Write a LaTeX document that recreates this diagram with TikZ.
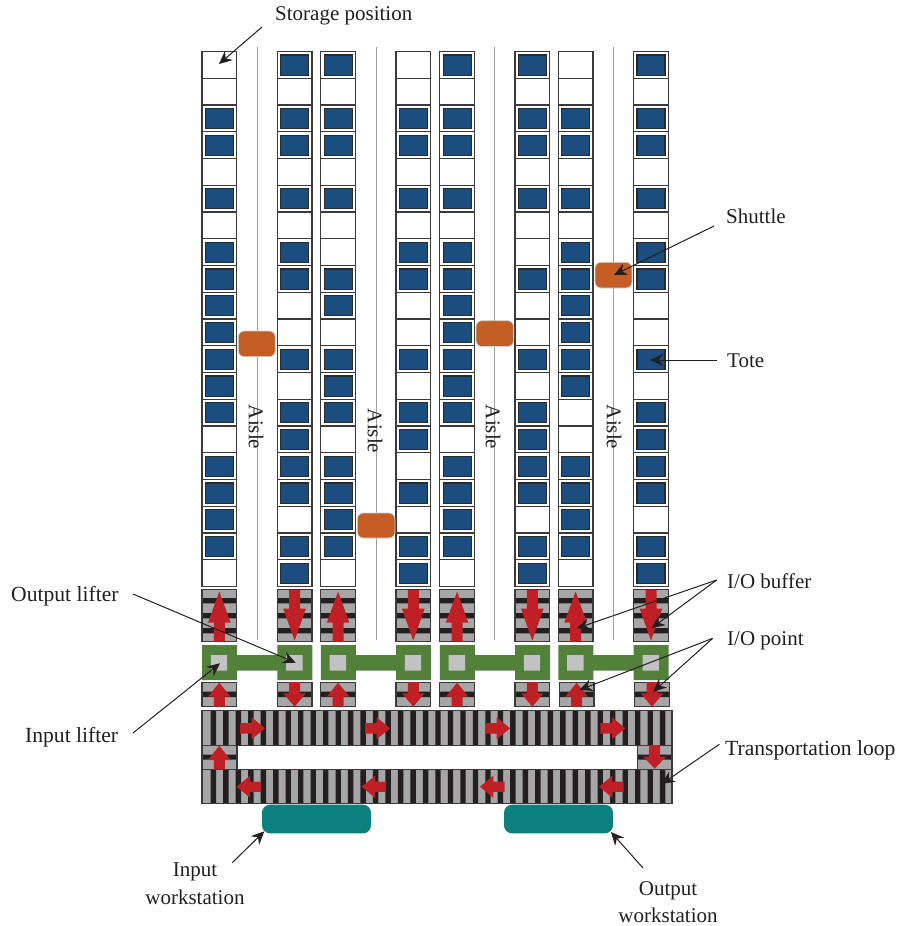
\documentclass[tikz,border=0pt]{standalone}
\usepackage{fontspec}
\setmainfont{Liberation Serif}
\usetikzlibrary{arrows.meta}
\definecolor{cInk}{HTML}{231F20}
\definecolor{cCell}{HTML}{3A3A3A}
\definecolor{cToteEdge}{HTML}{2A2A2A}
\definecolor{cAisle}{HTML}{A0A0A0}
\definecolor{cTote}{HTML}{1B4D7E}
\definecolor{cShuttle}{HTML}{C45E25}
\definecolor{cShuttleEdge}{HTML}{D0D0D0}
\definecolor{cBelt}{HTML}{A6A6A6}
\definecolor{cFlow}{HTML}{C11F26}
\definecolor{cLift}{HTML}{53803A}
\definecolor{cPoint}{HTML}{C2C2C2}
\definecolor{cStation}{HTML}{0C807E}
\tikzset{
  x=1pt,y=-1pt,
  cellbox/.style={draw=cCell,line width=1.25pt,fill=white},
  totebox/.style={draw=cToteEdge,line width=1.2pt,fill=cTote},
  aisleline/.style={draw=cAisle,line width=1pt},
  shuttlebox/.style={fill=cShuttle,draw=cShuttleEdge,line width=.8pt,rounded corners=6pt},
  beltbox/.style={fill=cBelt},
  beltedge/.style={draw=cCell,line width=1.25pt},
  stripefill/.style={fill=cInk},
  flowarrow/.style={fill=cFlow},
  wsbox/.style={fill=cStation,rounded corners=8pt},
  lbl/.style={font=\fontsize{21}{25}\selectfont,text=cInk,inner sep=0pt,anchor=west},
  lblw/.style={font=\fontsize{21.6}{25}\selectfont,text=cInk,inner sep=0pt,anchor=west},
  lblc/.style={font=\fontsize{21}{25}\selectfont,text=cInk,inner sep=0pt,anchor=center},
  pointer/.style={draw=cInk,line width=1pt,-{Stealth[length=13pt,width=12pt]}},
}
\begin{document}
\begin{tikzpicture}
\useasboundingbox (0,0) rectangle (897,926);
% aisles
\draw[aisleline] \foreach \ax in {257,376,494,613.5} {(\ax,47) -- (\ax,640)};
% storage racks
\draw[cellbox] \foreach \cx in {202,277.3,320.8,396,439.8,515,558.3,633.7} {
  (\cx,51.6) rectangle (\cx+34.6,586.6)
  \foreach \r in {1,...,19} {(\cx,51.6+26.75*\r) -- (\cx+34.6,51.6+26.75*\r)}
};
\draw[totebox] \foreach \cx/\rows in {
  202/{2,3,5,7,8,9,10,11,12,13,15,16,17,18},
  277.3/{0,2,3,5,7,8,11,13,14,15,16,18,19},
  320.8/{0,2,3,5,8,9,11,12,13,15,16,17,18},
  396/{2,3,5,7,8,11,13,14,16,18,19},
  439.8/{0,2,3,5,7,8,9,10,11,12,13,15,16,17,18},
  515/{0,2,3,5,8,11,13,14,15,16,18,19},
  558.3/{2,3,5,7,8,9,10,11,12,15,16,17,18},
  633.7/{0,2,3,5,7,8,11,13,14,15,16,18,19}} {
  \foreach \r in \rows {(\cx+3.3,51.6+26.75*\r+3.4) rectangle (\cx+31.3,51.6+26.75*\r+23.5)}
};
% belts: upper buffers, lower buffers, connectors, loop
\fill[beltbox]
  \foreach \cx in {202,277.3,320.8,396,439.8,515,558.3,633.7} {(\cx,589.5) rectangle (\cx+34.6,641.5)}
  \foreach \cx in {202,277.3,320.8,396,439.8,515,559.3,634.7} {(\cx,682.3) rectangle (\cx+34.6,706.7)}
  (202,710.7) rectangle (672,745.3) (202,769.3) rectangle (672,803.3)
  (202,745.3) rectangle (237,769.3) (637.3,745.3) rectangle (672,769.3);
\fill[stripefill]
  \foreach \cx in {202,277.3,320.8,396,439.8,515,558.3,633.7} {
    \foreach \sy in {600.7,615.7,630.7} {(\cx,\sy-2.7) rectangle (\cx+34.6,\sy+2.7)}}
  \foreach \cx in {202,277.3,320.8,396,439.8,515,559.3,634.7} {(\cx,691.7) rectangle (\cx+34.6,697.1)}
  \foreach \i in {0,...,36} {
    (210.7+12.48*\i,710.7) rectangle (216.1+12.48*\i,745.3)
    (210.7+12.48*\i,769.3) rectangle (216.1+12.48*\i,803.3)}
  (202,754.5) rectangle (237,759.7) (637.3,754.5) rectangle (672,759.7);
\draw[beltedge]
  \foreach \cx in {202,277.3,320.8,396,439.8,515,558.3,633.7} {(\cx,589.5) rectangle (\cx+34.6,641.5)}
  \foreach \cx in {202,277.3,320.8,396,439.8,515,559.3,634.7} {(\cx,682.3) rectangle (\cx+34.6,706.7)}
  (202,710.7) rectangle (672,745.3) (202,769.3) rectangle (672,803.3)
  (202,745.3) rectangle (237,769.3) (637.3,745.3) rectangle (672,769.3);
% red flow arrows
\fill[flowarrow]
  \foreach \cx/\ya/\yb/\yc in {
    219.3/641.5/622.7/591.5, 338.1/641.5/622.7/591.5, 457.1/641.5/622.7/591.5, 575.6/641.5/622.7/591.5,
    294.6/590/608.7/640.5, 413.3/590/608.7/640.5, 532.3/590/608.7/640.5, 651/590/608.7/640.5,
    219.3/706.7/696.7/682.7, 338.1/706.7/696.7/682.7, 457.1/706.7/696.7/682.7, 576.6/706.7/696.7/682.7,
    294.6/682/693.3/706.7, 413.3/682/693.3/706.7, 532.3/682/693.3/706.7, 652/682/693.3/706.7,
    219.3/769.3/760/745.7, 654.7/745/756.7/768.7} {
    (\cx-5.5,\ya) -- (\cx-5.5,\yb) -- (\cx-11.3,\yb) -- (\cx,\yc) -- (\cx+11.3,\yb) -- (\cx+5.5,\yb) -- (\cx+5.5,\ya) -- cycle}
  \foreach \cy/\xa/\xb/\xc in {
    728.3/240/251.7/265, 728.3/365/376.7/390, 728.3/485/496.7/510, 728.3/600.3/612/625.3,
    786.7/261.2/250/236.7, 786.7/386.2/375/361.7, 786.7/504.5/493.3/480, 786.7/623.5/612.3/599} {
    (\xa,\cy-5.2) -- (\xb,\cy-5.2) -- (\xb,\cy-11) -- (\xc,\cy) -- (\xb,\cy+11) -- (\xb,\cy+5.2) -- (\xa,\cy+5.2) -- cycle};
% lifters
\fill[cLift] \foreach \ca/\cb in {202/277.3,320.8/396,439.8/515,558.3/633.7} {
  (\ca,645) rectangle (\ca+35,680) (\cb,645) rectangle (\cb+35,680)
  (\ca+30,655) rectangle (\cb+5,670.7)};
\fill[cPoint] \foreach \ca in {202,277.3,320.8,396,439.8,515,558.3,633.7} {
  (\ca+8.8,655) rectangle (\ca+25.2,670.7)};
% shuttles
\draw[shuttlebox] (238.3,331) rectangle (275.3,356.7);
\draw[shuttlebox] (357.3,513) rectangle (395,538);
\draw[shuttlebox] (476,320.7) rectangle (513.6,346.6);
\draw[shuttlebox] (595,262.3) rectangle (632,288);
% workstations
\fill[wsbox] (262,804.7) rectangle (371,833.3);
\fill[wsbox] (504,804.7) rectangle (613,833.3);
% aisle labels
\node[lblc,rotate=-90] (aisleA) at (256,427) {Aisle};
\node[lblc,rotate=-90] (aisleB) at (375,431) {Aisle};
\node[lblc,rotate=-90] (aisleC) at (493,427) {Aisle};
\node[lblc,rotate=-90] (aisleD) at (614,427) {Aisle};
% labels
\node[lbl] (lStorage) at (275,16) {Storage position};
\node[lbl] (lShuttle) at (726,216.5) {Shuttle};
\node[lbl] (lTote) at (727,360.5) {Tote};
\node[lbl] (lBuffer) at (727,581) {I/O buffer};
\node[lbl] (lPoint) at (727,640.5) {I/O point};
\node[lblw] (lLoop) at (725,750) {Transportation loop};
\node[lblw] (lOut) at (11,596) {Output lifter};
\node[lblw] (lIn) at (25,737) {Input lifter};
\node[lblc] (lInWs1) at (195,871.5) {Input};
\node[lblc] (lInWs2) at (195,897.5) {workstation};
\node[lblc] (lOutWs1) at (668,890.5) {Output};
\node[lblc] (lOutWs2) at (668,915.5) {workstation};
% pointer ends
\coordinate (sStorage) at (262,27); \coordinate (tStorage) at (219,64);
\coordinate (sShuttle) at (714,226); \coordinate (tShuttle) at (614,275);
\coordinate (sTote) at (717,360); \coordinate (tTote) at (650,360);
\coordinate (sBuffer) at (716.7,580); \coordinate (tBufA) at (576.7,628.3); \coordinate (tBufB) at (651.7,628);
\coordinate (sPoint) at (712.7,638.3); \coordinate (tPtA) at (579.3,690); \coordinate (tPtB) at (653.3,691.7);
\coordinate (sLoop) at (719.3,744.3); \coordinate (tLoop) at (661.7,784);
\coordinate (sOut) at (133,594); \coordinate (tOut) at (295.7,662.7);
\coordinate (sIn) at (133,733); \coordinate (tIn) at (220,663.3);
\coordinate (sInWs) at (232.3,862.7); \coordinate (tInWs) at (264.3,831.3);
\coordinate (sOutWs) at (643,868); \coordinate (tOutWs) at (611,832);
\draw[pointer] (sStorage) -- (tStorage);
\draw[pointer] (sShuttle) -- (tShuttle);
\draw[pointer] (sTote) -- (tTote);
\draw[pointer] (sBuffer) -- (tBufA);
\draw[pointer] (sBuffer) -- (tBufB);
\draw[pointer] (sPoint) -- (tPtA);
\draw[pointer] (sPoint) -- (tPtB);
\draw[pointer] (sLoop) -- (tLoop);
\draw[pointer] (sOut) -- (tOut);
\draw[pointer] (sIn) -- (tIn);
\draw[pointer] (sInWs) -- (tInWs);
\draw[pointer] (sOutWs) -- (tOutWs);
\end{tikzpicture}
\end{document}
